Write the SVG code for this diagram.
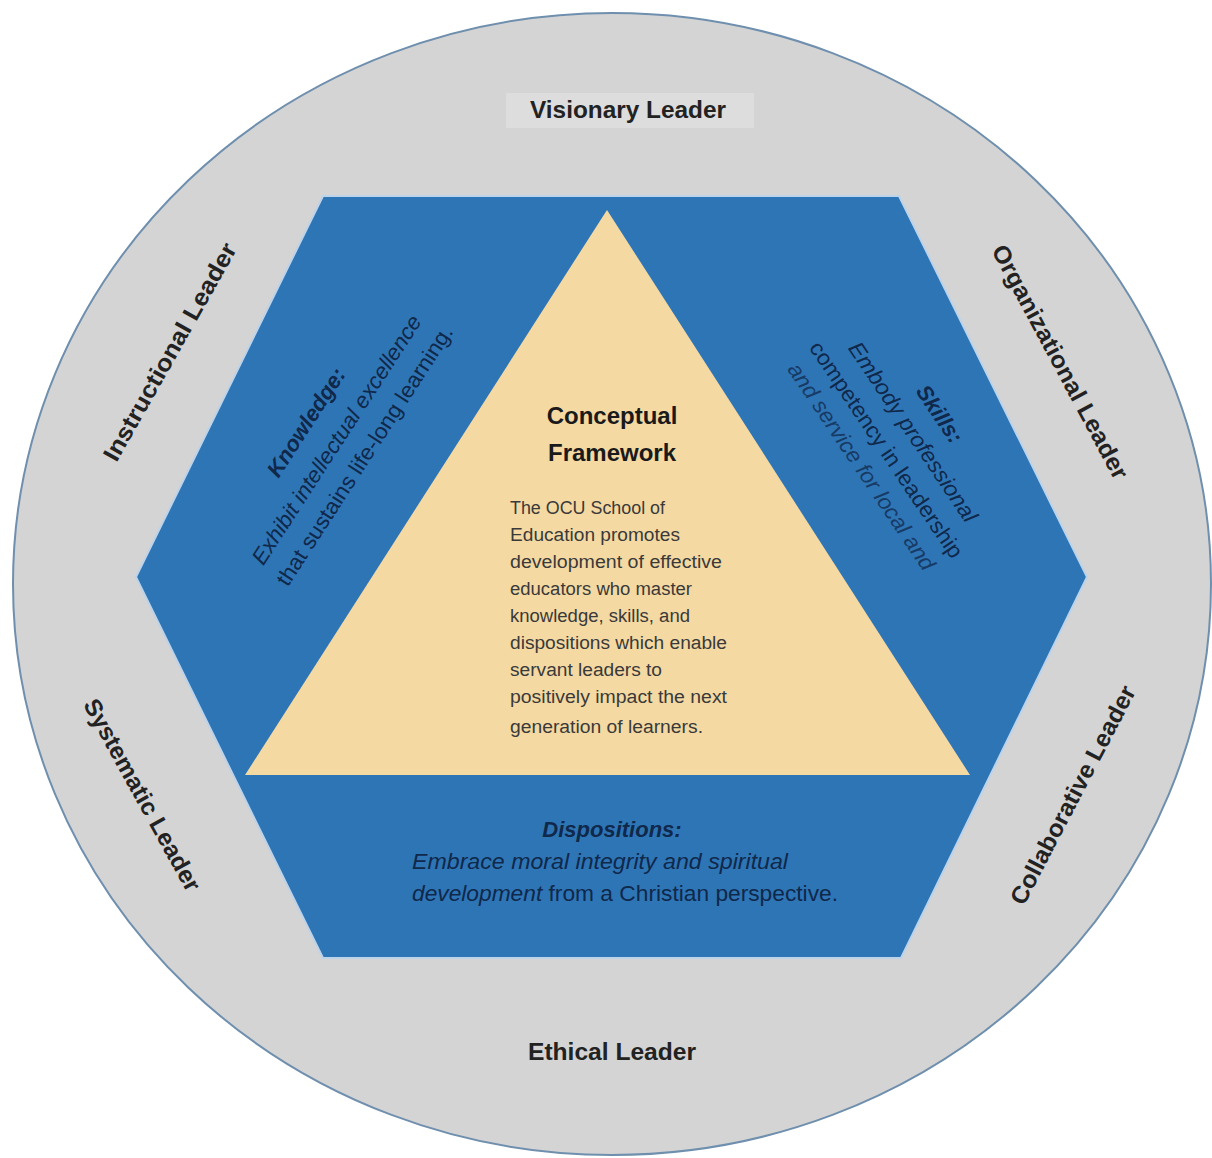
<svg xmlns="http://www.w3.org/2000/svg" width="1212" height="1158" viewBox="0 0 1212 1158">
  <style>
    .lbl { font-family: "Liberation Sans", Arial, sans-serif; font-size: 24px; font-weight: bold; fill: #222; }
    .blu { font-family: "Liberation Sans", Arial, sans-serif; font-size: 22px; fill: #10284a; }
    .bi { font-weight: bold; font-style: italic; }
    .it { font-style: italic; }
    .title { font-family: "Liberation Sans", Arial, sans-serif; font-size: 24px; font-weight: bold; fill: #1a1a1a; }
    .body { font-family: "Liberation Sans", Arial, sans-serif; font-size: 18px; fill: #3a3a3a; }
  </style>
  <rect width="1212" height="1158" fill="#ffffff"/>
  <g id="outer-circle">
    <ellipse cx="612" cy="584" rx="599" ry="571" fill="#d4d4d4" stroke="#6f8fae" stroke-width="2"/>
  </g>
  <g id="hexagon">
    <polygon points="323,196 899,196 1087,577 901,958 323,958 136,577" fill="#2e75b6" stroke="#bcd3ea" stroke-width="2"/>
  </g>
  <g id="triangle">
    <polygon points="607,210 970,775 245,775" fill="#f4d9a3"/>
  </g>

  <g id="visionary-leader">
    <rect x="506" y="93" width="248" height="35" fill="#dddddd"/>
    <text class="lbl" x="628" y="118" text-anchor="middle" textLength="196" lengthAdjust="spacingAndGlyphs">Visionary Leader</text>
  </g>
  <g id="ethical-leader">
    <text class="lbl" x="612" y="1060" text-anchor="middle" textLength="168" lengthAdjust="spacingAndGlyphs">Ethical Leader</text>
  </g>
  <g id="instructional-leader" transform="translate(170,352) rotate(-60.6)">
    <text class="lbl" x="0" y="8" text-anchor="middle" textLength="246" lengthAdjust="spacingAndGlyphs">Instructional Leader</text>
  </g>
  <g id="organizational-leader" transform="translate(1060,362) rotate(61.8)">
    <text class="lbl" x="0" y="8" text-anchor="middle" textLength="262" lengthAdjust="spacingAndGlyphs">Organizational Leader</text>
  </g>
  <g id="systematic-leader" transform="translate(142,795) rotate(61)">
    <text class="lbl" x="0" y="8" text-anchor="middle" textLength="216" lengthAdjust="spacingAndGlyphs">Systematic Leader</text>
  </g>
  <g id="collaborative-leader" transform="translate(1073,795) rotate(-62.4)">
    <text class="lbl" x="0" y="8" text-anchor="middle" textLength="243" lengthAdjust="spacingAndGlyphs">Collaborative Leader</text>
  </g>

  <g id="knowledge" transform="translate(337,440) rotate(-57)">
    <text class="blu bi" x="-2" y="-28" text-anchor="middle">Knowledge:</text>
    <text class="blu it" x="0" y="7" text-anchor="middle" textLength="292" lengthAdjust="spacingAndGlyphs">Exhibit intellectual excellence</text>
    <text class="blu" x="2" y="39" text-anchor="middle" textLength="305" lengthAdjust="spacingAndGlyphs">that sustains life-long learning.</text>
  </g>
  <g id="skills" transform="translate(886,450) rotate(56)">
    <text class="blu bi" x="0" y="-57" text-anchor="middle">Skills:</text>
    <text class="blu it" x="0" y="-25" text-anchor="middle" textLength="212" lengthAdjust="spacingAndGlyphs">Embody professional</text>
    <text class="blu" x="0" y="7" text-anchor="middle" textLength="256" lengthAdjust="spacingAndGlyphs">competency in leadership</text>
    <text class="blu it" x="0" y="37" text-anchor="middle" textLength="245" lengthAdjust="spacingAndGlyphs" opacity="0.75">and service for local and</text>
  </g>

  <g id="conceptual-framework">
    <text class="title" x="612" y="424" text-anchor="middle">Conceptual</text>
    <text class="title" x="612" y="461" text-anchor="middle">Framework</text>
    <text class="body" x="510" y="514" textLength="155" lengthAdjust="spacingAndGlyphs">The OCU School of</text>
    <text class="body" x="510" y="541" textLength="170" lengthAdjust="spacingAndGlyphs">Education promotes</text>
    <text class="body" x="510" y="568" textLength="212" lengthAdjust="spacingAndGlyphs">development of effective</text>
    <text class="body" x="510" y="595" textLength="182" lengthAdjust="spacingAndGlyphs">educators who master</text>
    <text class="body" x="510" y="622" textLength="180" lengthAdjust="spacingAndGlyphs">knowledge, skills, and</text>
    <text class="body" x="510" y="649" textLength="217" lengthAdjust="spacingAndGlyphs">dispositions which enable</text>
    <text class="body" x="510" y="676" textLength="152" lengthAdjust="spacingAndGlyphs">servant leaders to</text>
    <text class="body" x="510" y="703" textLength="217" lengthAdjust="spacingAndGlyphs">positively impact the next</text>
    <text class="body" x="510" y="733" textLength="193" lengthAdjust="spacingAndGlyphs">generation of learners.</text>
  </g>

  <g id="dispositions">
    <text class="blu bi" x="612" y="837" text-anchor="middle">Dispositions:</text>
    <text class="blu it" x="412" y="869" textLength="376" lengthAdjust="spacingAndGlyphs">Embrace moral integrity and spiritual</text>
    <text class="blu" x="412" y="901" textLength="426" lengthAdjust="spacingAndGlyphs"><tspan font-style="italic">development</tspan> from a Christian perspective.</text>
  </g>
</svg>
